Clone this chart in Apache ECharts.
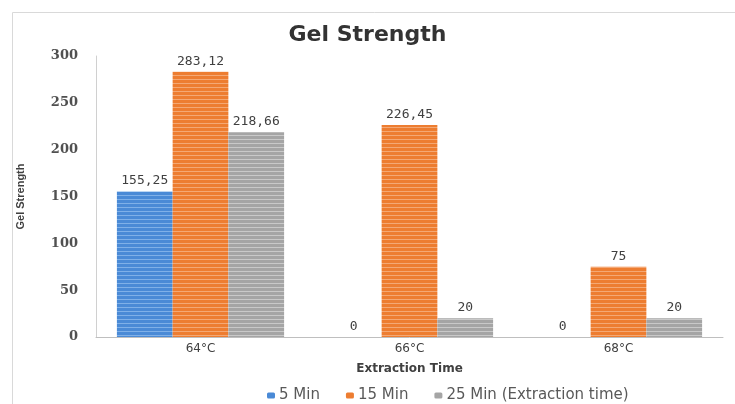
<!DOCTYPE html>
<html>
<head>
<meta charset="utf-8">
<script src="https://cdn.jsdelivr.net/npm/echarts@6/dist/echarts.min.js"></script>
<style>
  html, body { margin: 0; padding: 0; background: #ffffff; }
  #chart { width: 735px; height: 404px; }
</style>
</head>
<body>
<div id="chart"></div>
<script>
// Gel strength by extraction temperature and extraction time
const categories = ['64°C', '66°C', '68°C'];
const seriesNames = ['5 Min', '15 Min', '25 Min'];
const min5 = [155.25, 0, 0];
const min15 = [283.12, 226.45, 75];
const min25 = [218.66, 20, 20];
const yTicks = [0, 50, 100, 150, 200, 250, 300];

const baseColors = ['#4a8ad6', '#ed7d31', '#a5a5a5'];
const stripeColors = ['#7fb0e8', '#f4a874', '#c9c9c9'];

// Horizontal pin-stripe fill for the bars
function stripes(base, light) {
  const c = document.createElement('canvas');
  c.width = 4; c.height = 4;
  const g = c.getContext('2d');
  g.fillStyle = base; g.fillRect(0, 0, 4, 4);
  g.fillStyle = light; g.fillRect(0, 3, 4, 1);
  return { image: c, repeat: 'repeat' };
}

const valueFmt = p => String(p.value).replace('.', ',');
const labelStyle = {
  show: true, position: 'top', distance: 4,
  formatter: valueFmt,
  fontFamily: 'DejaVu Sans Mono', fontSize: 13, color: '#404040'
};

const data = [min5, min15, min25];
const chart = echarts.init(document.getElementById('chart'));
chart.setOption({
  animation: false,
  graphic: [{
    type: 'rect', left: 10, top: 10, z: -1,
    shape: { width: 760, height: 420 },
    style: { fill: 'none', stroke: '#d9d9d9', lineWidth: 1 }
  }],
  title: {
    text: 'Gel Strength', left: 'center', top: 19,
    textStyle: { fontFamily: 'DejaVu Sans', fontWeight: 'bold', fontSize: 22, color: '#333333' }
  },
  grid: { left: 96, right: 12, top: 56, bottom: 67 },
  legend: {
    top: 383, left: 262,
    itemWidth: 8, itemHeight: 6, itemGap: 26,
    data: seriesNames.map((n, i) => ({ name: n, itemStyle: { color: baseColors[i] } })),
    formatter: n => n === '25 Min' ? '25 Min (Extraction time)' : n,
    textStyle: { fontFamily: 'DejaVu Sans', fontSize: 15, color: '#595959', padding: [0, 0, 0, -1] }
  },
  xAxis: {
    type: 'category', data: categories,
    name: 'Extraction Time', nameLocation: 'middle', nameGap: 26,
    nameTextStyle: { fontFamily: 'DejaVu Sans', fontWeight: 'bold', fontSize: 12, color: '#404040' },
    axisLine: { lineStyle: { color: '#bfbfbf' } },
    axisTick: { show: false },
    axisLabel: { fontFamily: 'DejaVu Sans', fontSize: 12, color: '#404040', margin: 6 }
  },
  yAxis: {
    type: 'value', min: yTicks[0], max: yTicks[yTicks.length - 1], interval: 50,
    name: 'Gel Strength', nameLocation: 'middle', nameGap: 70, nameRotate: 90,
    nameTextStyle: { fontFamily: 'Liberation Sans', fontWeight: 'bold', fontSize: 11, color: '#404040' },
    axisLine: { show: true, lineStyle: { color: '#d0d0d0' } },
    axisTick: { show: false },
    splitLine: { show: false },
    axisLabel: { fontFamily: 'DejaVu Serif', fontWeight: 'bold', fontSize: 13, color: '#505050', margin: 18 }
  },
  series: seriesNames.map((n, i) => ({
    name: n, type: 'bar', data: data[i],
    barGap: '0%', barCategoryGap: '20%',
    itemStyle: { color: stripes(baseColors[i], stripeColors[i]) },
    label: labelStyle
  }))
});
</script>
</body>
</html>
